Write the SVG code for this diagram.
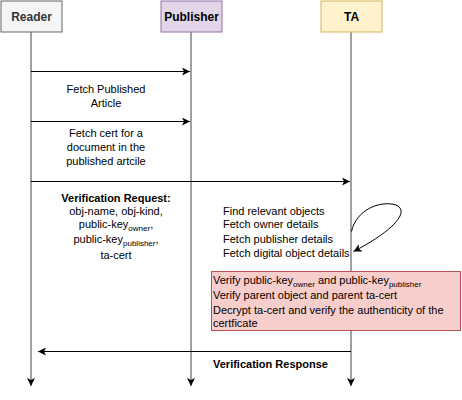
<svg xmlns="http://www.w3.org/2000/svg" width="462" height="400" viewBox="0 0 462 400">
<defs>
<marker id="ah" markerWidth="10" markerHeight="8" refX="8" refY="4" orient="auto" markerUnits="userSpaceOnUse">
<path d="M0,0 L8,4 L0,8 L2,4 Z" fill="#000"/>
</marker>
<style>
.t{font-family:"Liberation Sans",Arial,sans-serif;font-size:11px;fill:#000}
.b{font-weight:bold}
.h{font-family:"Liberation Sans",Arial,sans-serif;font-size:12px;font-weight:bold;text-anchor:middle}
.life{stroke:#808080;stroke-width:1.5;fill:none}
.msg{stroke:#000;stroke-width:1;fill:none}
.c{text-anchor:middle}
</style>
</defs>
<rect width="462" height="400" fill="#fff"/>
<g id="lifelines">
<line class="life" x1="31" y1="32" x2="31" y2="386" marker-end="url(#ah)"/>
<line class="life" x1="191" y1="32" x2="191" y2="386" marker-end="url(#ah)"/>
<line class="life" x1="351" y1="32" x2="351" y2="386" marker-end="url(#ah)"/>
</g>
<g id="reader">
<rect x="1" y="1" width="61" height="31" fill="#f5f5f5" stroke="#666" stroke-width="1"/>
<text class="h" x="31.5" y="20.5" fill="#333">Reader</text>
</g>
<g id="publisher">
<rect x="161" y="1" width="61" height="31" fill="#e1d5e7" stroke="#9673a6" stroke-width="1"/>
<text class="h" x="191.5" y="20.5">Publisher</text>
</g>
<g id="ta">
<rect x="321" y="1" width="61" height="31" fill="#fff2cc" stroke="#d6b656" stroke-width="1"/>
<text class="h" x="351.5" y="20.5">TA</text>
</g>
<g id="connectors">
<line class="msg" x1="31" y1="71.5" x2="190" y2="71.5" marker-end="url(#ah)"/>
<line class="msg" x1="31" y1="121.5" x2="190" y2="121.5" marker-end="url(#ah)"/>
<line class="msg" x1="31" y1="181.5" x2="350" y2="181.5" marker-end="url(#ah)"/>
<path class="msg" d="M351.5,231.5 C356,210 380,200 396,205 C410,211 395,230 353.5,251.5" marker-end="url(#ah)"/>
<line class="msg" x1="351" y1="351.5" x2="38" y2="351.5" marker-end="url(#ah)"/>
</g>
<g id="label-fetch-article">
<text class="t c" x="106" y="93">Fetch Published</text>
<text class="t c" x="106" y="107">Article</text>
</g>
<g id="label-fetch-cert">
<text class="t c" x="106" y="137">Fetch cert for a</text>
<text class="t c" x="106" y="151">document in the</text>
<text class="t c" x="106" y="164.5">published artcile</text>
</g>
<g id="label-request">
<text class="t b c" x="116" y="202">Verification Request:</text>
<text class="t c" x="116" y="215">obj-name, obj-kind,</text>
<text class="t c" x="116" y="228">public-key<tspan font-size="8" dy="3">owner</tspan><tspan dy="-3">,</tspan></text>
<text class="t c" x="116" y="243">public-key<tspan font-size="8" dy="3">publisher</tspan><tspan dy="-3">,</tspan></text>
<text class="t c" x="116" y="258.5">ta-cert</text>
</g>
<g id="label-ta-steps">
<text class="t" x="223" y="214.5">Find relevant objects</text>
<text class="t" x="223" y="228">Fetch owner details</text>
<text class="t" x="223" y="243">Fetch publisher details</text>
<text class="t" x="223" y="257">Fetch digital object details</text>
</g>
<g id="verify-box">
<rect x="211.5" y="271.5" width="249" height="59" fill="#f8cecc" stroke="#b85450" stroke-width="1"/>
<text class="t" x="213" y="283.5">Verify public-key<tspan font-size="8" dy="3">owner</tspan><tspan dy="-3"> and public-key</tspan><tspan font-size="8" dy="3">publisher</tspan></text>
<text class="t" x="213" y="299">Verify parent object and parent ta-cert</text>
<text class="t" x="213" y="314">Decrypt ta-cert and verify the authenticity of the</text>
<text class="t" x="213" y="327">certficate</text>
</g>
<g id="label-response">
<text class="t b" x="213" y="368">Verification Response</text>
</g>
</svg>
